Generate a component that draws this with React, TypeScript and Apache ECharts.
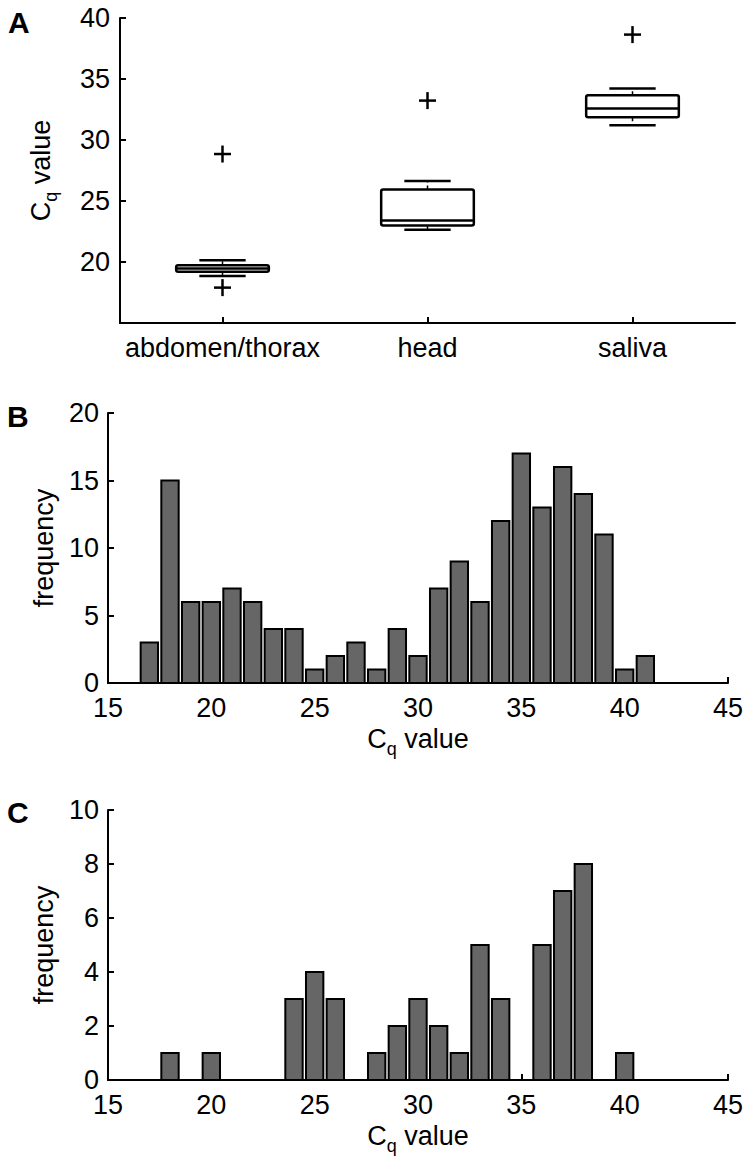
import React, { useEffect, useRef } from "react";
import * as echarts from "echarts";

// ---------- Panel A: box plot data ----------
const boxCategories = ["abdomen/thorax", "head", "saliva"];
const boxLowerWhisker = [18.85, 22.65, 31.2];
const boxQ1 = [19.21, 23.0, 31.87];
const boxMedian = [19.46, 23.41, 32.58];
const boxQ3 = [19.73, 25.95, 33.67];
const boxUpperWhisker = [20.14, 26.63, 34.22];
const outlierCategory = [0, 0, 1, 2];
const outlierValue = [28.85, 17.9, 33.23, 38.64];
const boxYTicks = [15, 20, 25, 30, 35, 40];

// ---------- Panel B: histogram ----------
const histBBins = [17, 18, 19, 20, 21, 22, 23, 24, 25, 26, 27, 28, 29, 30, 31, 32, 33, 34, 35, 36, 37, 38, 39, 40, 41];
const histBCounts = [3, 15, 6, 6, 7, 6, 4, 4, 1, 2, 3, 1, 4, 2, 7, 9, 6, 12, 17, 13, 16, 14, 11, 1, 2];

// ---------- Panel C: histogram ----------
const histCBins = [18, 20, 24, 25, 26, 28, 29, 30, 31, 32, 33, 34, 36, 37, 38, 40];
const histCCounts = [1, 1, 3, 4, 3, 1, 2, 3, 2, 1, 5, 3, 5, 7, 8, 1];

const histXTicks = [15, 20, 25, 30, 35, 40, 45];

const FONT = "'Liberation Sans', Arial, Helvetica, sans-serif";
const FS = 27;

const cqName = "{c|C}{q|q}{v| value}";
const cqRich = {
  c: { fontSize: FS, fontFamily: FONT, color: "#000", lineHeight: 32, verticalAlign: "top" },
  q: { fontSize: 18, fontFamily: FONT, color: "#000", lineHeight: 18, padding: [15, 0, 0, 0], verticalAlign: "top" },
  v: { fontSize: FS, fontFamily: FONT, color: "#000", lineHeight: 32, verticalAlign: "top" },
};

const axisLine = { show: true, lineStyle: { color: "#000", width: 2 } };
const axisTick = { show: true, inside: true, length: 6, lineStyle: { color: "#000", width: 2 } };
const labelStyle = { color: "#000", fontSize: FS, fontFamily: FONT };

function barRender(params: any, api: any) {
  const x = api.value(0);
  const y = api.value(1);
  const p0 = api.coord([x - 0.42, y]);
  const p1 = api.coord([x + 0.42, 0]);
  return {
    type: "rect",
    shape: { x: p0[0], y: p0[1], width: p1[0] - p0[0], height: p1[1] - p0[1] },
    style: { fill: "#666666", stroke: "#000", lineWidth: 2 },
  };
}

function boxRender(params: any, api: any) {
  const i = api.value(0);
  const lo = api.coord([i, api.value(1)]);
  const q1 = api.coord([i, api.value(2)]);
  const md = api.coord([i, api.value(3)]);
  const q3 = api.coord([i, api.value(4)]);
  const hi = api.coord([i, api.value(5)]);
  const band = api.size([1, 0])[0];
  const hw = band * 0.226;
  const cw = hw / 2;
  const x = lo[0];
  const solid = { stroke: "#000", lineWidth: 2.5, fill: null, lineCap: "butt" };
  const dashed = { stroke: "#000", lineWidth: 1.5, fill: null, lineDash: [4, 3] };
  return {
    type: "group",
    children: [
      { type: "line", shape: { x1: x, y1: q3[1], x2: x, y2: hi[1] }, style: dashed },
      { type: "line", shape: { x1: x, y1: q1[1], x2: x, y2: lo[1] }, style: dashed },
      { type: "line", shape: { x1: x - cw, y1: hi[1], x2: x + cw, y2: hi[1] }, style: solid },
      { type: "line", shape: { x1: x - cw, y1: lo[1], x2: x + cw, y2: lo[1] }, style: solid },
      {
        type: "rect",
        shape: { x: x - hw, y: q3[1], width: 2 * hw, height: q1[1] - q3[1], r: 2 },
        style: { stroke: "#000", lineWidth: 2.5, fill: "#fff" },
      },
      { type: "line", shape: { x1: x - hw, y1: md[1], x2: x + hw, y2: md[1] }, style: solid },
    ],
  };
}

function plusRender(params: any, api: any) {
  const p = api.coord([api.value(0), api.value(1)]);
  const h = 8.5;
  const st = { stroke: "#000", lineWidth: 2.5, fill: null };
  return {
    type: "group",
    children: [
      { type: "line", shape: { x1: p[0] - h, y1: p[1], x2: p[0] + h, y2: p[1] }, style: st },
      { type: "line", shape: { x1: p[0], y1: p[1] - h, x2: p[0], y2: p[1] + h }, style: st },
    ],
  };
}

export default function App() {
  const ref = useRef<HTMLDivElement>(null);
  useEffect(() => {
    if (!ref.current) return;
    const chart = echarts.init(ref.current, undefined, { renderer: "svg" });

    const boxData = boxCategories.map((_, i) => [
      i,
      boxLowerWhisker[i],
      boxQ1[i],
      boxMedian[i],
      boxQ3[i],
      boxUpperWhisker[i],
    ]);
    const outData = outlierCategory.map((c, i) => [c, outlierValue[i]]);
    const bData = histBBins.map((b, i) => [b, histBCounts[i]]);
    const cData = histCBins.map((b, i) => [b, histCCounts[i]]);

    const histX = (gridIndex: number) => ({
      type: "value",
      gridIndex,
      min: histXTicks[0],
      max: histXTicks[histXTicks.length - 1],
      interval: 5,
      axisLine,
      axisTick,
      splitLine: { show: false },
      axisLabel: { ...labelStyle, margin: 11 },
      name: cqName,
      nameLocation: "middle",
      nameGap: 42,
      nameTextStyle: { rich: cqRich },
    });

    const letterFont = `bold 30px ${FONT}`;

    chart.setOption({
      animation: false,
      backgroundColor: "#fff",
      graphic: [
        { type: "text", left: 8, top: 7, style: { text: "A", font: letterFont, fill: "#000" } },
        { type: "text", left: 7, top: 401, style: { text: "B", font: letterFont, fill: "#000" } },
        { type: "text", left: 7, top: 797, style: { text: "C", font: letterFont, fill: "#000" } },
      ],
      grid: [
        { left: 120, top: 18, width: 615, height: 305 },
        { left: 108, top: 413, width: 620, height: 270 },
        { left: 108, top: 810, width: 620, height: 270 },
      ],
      xAxis: [
        {
          type: "category",
          gridIndex: 0,
          data: boxCategories,
          axisLine,
          axisTick: { ...axisTick, alignWithLabel: true },
          axisLabel: { ...labelStyle, margin: 11, interval: 0 },
          splitLine: { show: false },
        },
        histX(1),
        histX(2),
      ],
      yAxis: [
        {
          type: "value",
          gridIndex: 0,
          min: boxYTicks[0],
          max: boxYTicks[boxYTicks.length - 1],
          interval: 5,
          axisLine,
          axisTick,
          splitLine: { show: false },
          axisLabel: { ...labelStyle, margin: 10, formatter: (v: number) => (v === boxYTicks[0] ? "" : String(v)) },
          name: cqName,
          nameLocation: "middle",
          nameRotate: 90,
          nameGap: 61,
          nameTextStyle: { rich: cqRich },
        },
        {
          type: "value",
          gridIndex: 1,
          min: 0,
          max: 20,
          interval: 5,
          axisLine,
          axisTick,
          splitLine: { show: false },
          axisLabel: { ...labelStyle, margin: 9 },
          name: "frequency",
          nameLocation: "middle",
          nameRotate: 90,
          nameGap: 51,
          nameTextStyle: { ...labelStyle },
        },
        {
          type: "value",
          gridIndex: 2,
          min: 0,
          max: 10,
          interval: 2,
          axisLine,
          axisTick,
          splitLine: { show: false },
          axisLabel: { ...labelStyle, margin: 9 },
          name: "frequency",
          nameLocation: "middle",
          nameRotate: 90,
          nameGap: 51,
          nameTextStyle: { ...labelStyle },
        },
      ],
      series: [
        { type: "custom", xAxisIndex: 0, yAxisIndex: 0, data: boxData, renderItem: boxRender, encode: { x: 0, y: [1, 2, 3, 4, 5] } },
        { type: "custom", xAxisIndex: 0, yAxisIndex: 0, data: outData, renderItem: plusRender, encode: { x: 0, y: 1 } },
        { type: "custom", xAxisIndex: 1, yAxisIndex: 1, data: bData, renderItem: barRender, encode: { x: 0, y: 1 } },
        { type: "custom", xAxisIndex: 2, yAxisIndex: 2, data: cData, renderItem: barRender, encode: { x: 0, y: 1 } },
      ],
    });
    return () => chart.dispose();
  }, []);
  return (
    <div
      ref={ref}
      style={{ position: "absolute", left: 0, top: 0, width: 749, height: 1173, background: "#fff" }}
    />
  );
}
